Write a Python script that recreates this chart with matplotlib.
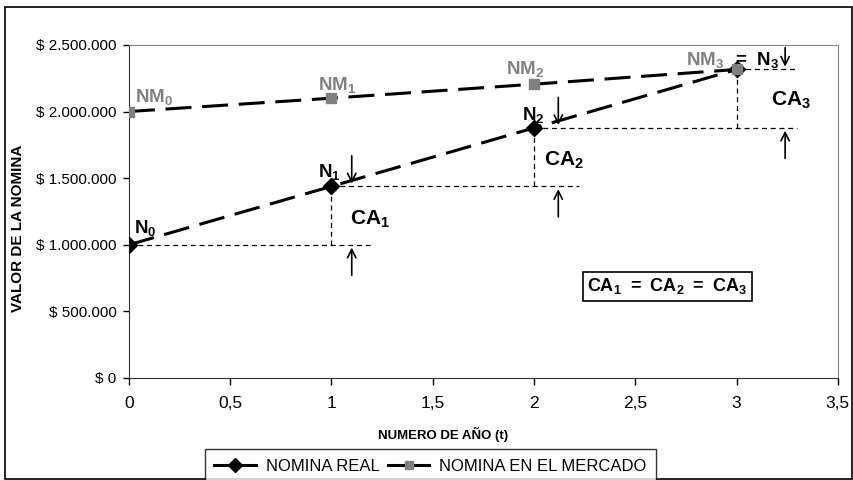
import matplotlib
matplotlib.use("Agg")
import matplotlib.pyplot as plt
from matplotlib.lines import Line2D
from matplotlib.ticker import FuncFormatter, MultipleLocator

plt.rcParams['font.family'] = ['Liberation Sans', 'DejaVu Sans']
plt.rcParams['mathtext.fontset'] = 'custom'
plt.rcParams['mathtext.rm'] = 'Liberation Sans'
plt.rcParams['mathtext.bf'] = 'Liberation Sans:bold'

# Nomina por año
anios = [0, 1, 2, 3]
nomina_real = [1000000, 1438417, 1876833, 2315250]
nomina_mercado = [2000000, 2100000, 2205000, 2315250]

GRIS = '#808080'

fig = plt.figure(figsize=(8.54, 4.80), dpi=100)
ax = fig.add_axes([0.151, 0.2125, 0.830, 0.694])

# marco exterior del grafico
fig.add_artist(plt.Rectangle((5 / 854, 0.002), 847 / 854, 1 - 7 / 480 - 0.002,
                             transform=fig.transFigure, fill=False,
                             edgecolor='black', linewidth=1.2))

ax.plot(anios, nomina_real, color='black', linewidth=2.2, dashes=(8.5, 3.5),
        marker='D', markersize=8, markerfacecolor='black', markeredgecolor='black', zorder=4)
ax.plot(anios, nomina_mercado, color='black', linewidth=2.2, dashes=(8.5, 3.5),
        marker='s', markersize=6.5, markerfacecolor=GRIS, markeredgecolor=GRIS, zorder=5)

# lineas auxiliares de los incrementos
guia = dict(color='black', linewidth=0.9, dashes=(4, 3), zorder=2)
fin_h = [1.2, 2.22, 3.3, 3.3]
for i, v in enumerate(nomina_real):
    ax.plot([anios[i], fin_h[i]], [v, v], **guia)
for i in range(1, len(anios)):
    ax.plot([anios[i], anios[i]], [nomina_real[i - 1], nomina_real[i]], **guia)

# flechas que delimitan cada CA
flecha_x = [1.1, 2.12, 3.24]
flecha = dict(arrowstyle='->', color='black', linewidth=1.2, mutation_scale=15)
for i in range(1, len(anios)):
    x = flecha_x[i - 1]
    arriba = min(nomina_real[i] + 250000, 2500000)
    ax.annotate('', xy=(x, nomina_real[i]), xytext=(x, arriba),
                arrowprops=flecha, annotation_clip=False)
    ax.annotate('', xy=(x, nomina_real[i - 1]), xytext=(x, nomina_real[i - 1] - 250000),
                arrowprops=flecha, annotation_clip=False)

# etiquetas de los puntos
ax.text(0.025, 1126000, r'$\mathbf{N_0}$', fontsize=13.5, va='center')
ax.text(0.933, 1547000, r'$\mathbf{N_1}$', fontsize=13.5, va='center')
ax.text(1.94, 1975000, r'$\mathbf{N_2}$', fontsize=13.5, va='center')
ax.text(0.03, 2110000, r'$\mathbf{NM_0}$', fontsize=13.5, va='center', color=GRIS)
ax.text(0.933, 2200000, r'$\mathbf{NM_1}$', fontsize=13.5, va='center', color=GRIS)
ax.text(1.86, 2320000, r'$\mathbf{NM_2}$', fontsize=13.5, va='center', color=GRIS)
ax.text(2.75, 2390000, r'$\mathbf{NM_3}$', fontsize=13.5, va='center', color=GRIS)
ax.text(2.98, 2390000, r'$\mathbf{=\ N_3}$', fontsize=13.5, va='center')

ax.text(1.09, 1190000, r'$\mathbf{CA_1}$', fontsize=15, va='center')
ax.text(2.05, 1630000, r'$\mathbf{CA_2}$', fontsize=15, va='center')
ax.text(3.17, 2087000, r'$\mathbf{CA_3}$', fontsize=15, va='center')

ax.text(2.66, 690000, r'$\mathbf{CA_1\ =\ CA_2\ =\ CA_3}$', fontsize=13,
        ha='center', va='center',
        bbox=dict(boxstyle='square,pad=0.25', facecolor='white', edgecolor='black', linewidth=1.2))

ax.set_xlim(0, 3.5)
ax.set_ylim(0, 2500000)
ax.xaxis.set_major_locator(MultipleLocator(0.5))
ax.yaxis.set_major_locator(MultipleLocator(500000))
ax.xaxis.set_major_formatter(FuncFormatter(lambda v, p: f'{v:g}'.replace('.', ',')))
ax.yaxis.set_major_formatter(FuncFormatter(lambda v, p: '$ ' + f'{v:,.0f}'.replace(',', '.')))
ax.tick_params(axis='y', labelsize=11, length=4, width=1, direction='out', pad=5)
ax.tick_params(axis='x', labelsize=12.5, length=5, width=1, direction='out', pad=8)

for lado in ['left', 'bottom']:
    ax.spines[lado].set_color('#333333')
for lado in ['top', 'right']:
    ax.spines[lado].set_color(GRIS)

ax.set_ylabel('VALOR DE LA NOMINA', fontsize=11, fontweight='bold')
ax.yaxis.set_label_coords(-0.146, 0.45)
ax.set_xlabel('NUMERO DE AÑO (t)', fontsize=9.5, fontweight='bold')
ax.xaxis.set_label_coords(0.443, -0.146)

manejadores = [
    Line2D([], [], color='black', linewidth=2.2, marker='D', markersize=7,
           markerfacecolor='black', markeredgecolor='black'),
    Line2D([], [], color='black', linewidth=2.2, marker='s', markersize=6,
           markerfacecolor=GRIS, markeredgecolor=GRIS),
]
leg = fig.legend(manejadores, ['NOMINA REAL', 'NOMINA EN EL MERCADO'], ncol=2,
                 loc='upper center', bbox_to_anchor=(0.504, 0.081), fontsize=12,
                 frameon=True, fancybox=False, edgecolor='black', handlelength=2.5,
                 handletextpad=0.6, columnspacing=0.5, borderpad=0.55)
leg.get_frame().set_linewidth(1.0)

fig.savefig('out.png', dpi=100)
